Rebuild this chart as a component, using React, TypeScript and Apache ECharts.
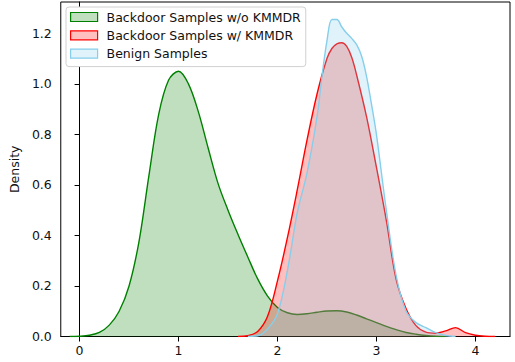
import React, { useEffect, useRef } from "react";
import * as echarts from "echarts";

const seriesNames = [
  "Backdoor Samples w/o KMMDR",
  "Backdoor Samples w/ KMMDR",
  "Benign Samples",
];

const greenX = [-0.1, 0, 0.1, 0.2, 0.3, 0.4, 0.5, 0.6, 0.7, 0.8, 0.9, 1.0, 1.1, 1.2, 1.3, 1.4, 1.5, 1.6, 1.7, 1.8, 1.9, 2.0, 2.1, 2.2, 2.3, 2.4, 2.5, 2.6, 2.7, 2.8, 2.9, 3.0, 3.1, 3.2, 3.3, 3.4, 3.5, 3.6, 3.7];
const greenY = [0, 0.001, 0.005, 0.016, 0.045, 0.1, 0.2, 0.375, 0.635, 0.88, 1.015, 1.05, 1.0, 0.89, 0.745, 0.605, 0.5, 0.405, 0.315, 0.228, 0.16, 0.115, 0.094, 0.087, 0.09, 0.096, 0.101, 0.102, 0.097, 0.085, 0.07, 0.055, 0.04, 0.027, 0.016, 0.009, 0.004, 0.001, 0];

const redX = [1.6, 1.7, 1.8, 1.9, 2.0, 2.1, 2.2, 2.3, 2.4, 2.5, 2.55, 2.6, 2.65, 2.7, 2.75, 2.8, 2.9, 3.0, 3.1, 3.2, 3.3, 3.4, 3.5, 3.6, 3.7, 3.8, 3.9, 4.0, 4.1, 4.2];
const redY = [0, 0.003, 0.02, 0.08, 0.22, 0.39, 0.58, 0.78, 0.96, 1.1, 1.14, 1.158, 1.163, 1.148, 1.105, 1.035, 0.87, 0.67, 0.46, 0.225, 0.11, 0.043, 0.017, 0.013, 0.022, 0.035, 0.015, 0.005, 0.001, 0];

const blueX = [1.7, 1.8, 1.9, 2.0, 2.1, 2.2, 2.3, 2.4, 2.45, 2.5, 2.55, 2.6, 2.65, 2.7, 2.75, 2.8, 2.85, 2.9, 2.95, 3.0, 3.1, 3.2, 3.3, 3.4, 3.5, 3.6, 3.7, 3.8];
const blueY = [0, 0.003, 0.03, 0.09, 0.26, 0.49, 0.65, 0.87, 1.03, 1.17, 1.255, 1.255, 1.225, 1.2, 1.18, 1.155, 1.11, 1.03, 0.92, 0.8, 0.5, 0.24, 0.1, 0.055, 0.035, 0.015, 0.004, 0];

const xTicks = [0, 1, 2, 3, 4];
const yTicks = [0, 0.2, 0.4, 0.6, 0.8, 1.0, 1.2];

const lineColors = ["#008000", "#ff0000", "#87ceeb"];
const fillColors = ["rgba(0,128,0,0.25)", "rgba(255,0,0,0.25)", "rgba(135,206,235,0.25)"];

const FONT = "DejaVu Sans";

export default function App() {
  const ref = useRef<HTMLDivElement>(null);
  useEffect(() => {
    if (!ref.current) return;
    const chart = echarts.init(ref.current, undefined, { renderer: "svg" });
    const xs = [greenX, redX, blueX];
    const ys = [greenY, redY, blueY];
    chart.setOption({
      animation: false,
      textStyle: { fontFamily: FONT },
      grid: {
        left: 59,
        right: 5,
        top: 2,
        bottom: 25.5,
        show: true,
        borderColor: "#000",
        borderWidth: 1,
        backgroundColor: "transparent",
      },
      legend: {
        left: 66,
        top: 7,
        orient: "vertical",
        icon: "rect",
        itemWidth: 27,
        itemHeight: 9,
        itemGap: 4.3,
        padding: [3, 5, 6, 4],
        backgroundColor: "#fff",
        borderColor: "#d0d0d0",
        borderWidth: 1,
        borderRadius: 3,
        textStyle: {
          fontFamily: FONT,
          fontSize: 12.5,
          color: "#111",
          lineHeight: 14,
          padding: [0, 0, 0, 4],
        },
        data: seriesNames.map((n, i) => ({
          name: n,
          itemStyle: { color: fillColors[i], borderColor: lineColors[i], borderWidth: 1.2 },
        })),
      },
      xAxis: {
        type: "value",
        min: -0.19,
        max: 4.35,
        splitLine: { show: false },
        axisLine: { show: true, onZero: false, lineStyle: { color: "#000", width: 1 } },
        axisTick: { show: true, length: 5, customValues: xTicks, lineStyle: { color: "#000" } },
        axisLabel: {
          customValues: xTicks,
          margin: 7,
          fontFamily: FONT,
          fontSize: 12.5,
          color: "#111",
          formatter: (v: number) => String(Math.round(v)),
        },
      },
      yAxis: {
        type: "value",
        min: 0,
        max: 1.324,
        name: "Density",
        nameLocation: "middle",
        nameGap: 36,
        nameRotate: 90,
        nameTextStyle: { fontFamily: FONT, fontSize: 12.5, color: "#111" },
        splitLine: { show: false },
        axisLine: { show: true, lineStyle: { color: "#000", width: 1 } },
        axisTick: { show: true, length: 5, customValues: yTicks, lineStyle: { color: "#000" } },
        axisLabel: {
          customValues: yTicks,
          margin: 9,
          fontFamily: FONT,
          fontSize: 12.5,
          color: "#111",
          formatter: (v: number) => v.toFixed(1),
        },
      },
      series: seriesNames.map((n, i) => ({
        name: n,
        type: "line",
        smooth: 0.35,
        symbol: "none",
        data: xs[i].map((x, k) => [x, ys[i][k]]),
        lineStyle: { color: lineColors[i], width: 1.4 },
        itemStyle: { color: lineColors[i] },
        areaStyle: { color: fillColors[i], opacity: 1 },
        z: 2 + i,
      })),
    });
    return () => chart.dispose();
  }, []);
  return <div ref={ref} style={{ width: 515, height: 362, position: "absolute", left: 0, top: 0 }} />;
}
